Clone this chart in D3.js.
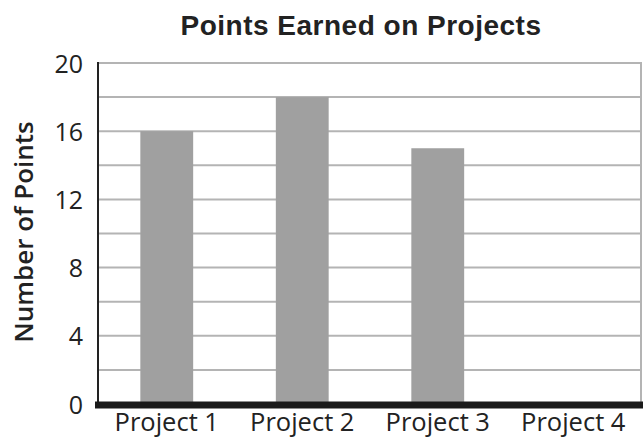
<!DOCTYPE html>
<html><head><meta charset="utf-8">
<script src="https://cdn.jsdelivr.net/npm/d3@7"></script>
<style>body{margin:0;background:#fff}</style>
</head><body>
<svg id="c" width="643" height="439"></svg>
<script>
const categories = ["Project 1","Project 2","Project 3","Project 4"];
const values = [16, 18, 15, 0];
const yTicks = [0,4,8,12,16,20];
const gridTicks = [2,4,6,8,10,12,14,16,18,20];
const title = "Points Earned on Projects";
const yLabel = "Number of Points";

const svg = d3.select("#c");
const L = 99, R = 641, T = 63, B = 404;
const x = d3.scaleBand().domain(categories).range([L, R]).paddingInner(0.61).paddingOuter(0.305);
const y = d3.scaleLinear().domain([0,20]).range([B, T]);

svg.append("g").selectAll("line").data(gridTicks).join("line")
  .attr("x1", L).attr("x2", R).attr("y1", d=>y(d)).attr("y2", d=>y(d))
  .attr("stroke", "#b4b4b4").attr("stroke-width", 2);
svg.append("line").attr("x1", R).attr("x2", R).attr("y1", T-1).attr("y2", B)
  .attr("stroke", "#b4b4b4").attr("stroke-width", 2);

svg.append("g").selectAll("rect").data(values).join("rect")
  .attr("x", (d,i)=>x(categories[i])).attr("width", x.bandwidth())
  .attr("y", d=>y(d)).attr("height", d=>B - y(d))
  .attr("fill", "#a0a0a0");

svg.append("line").attr("x1", L-1).attr("x2", L-1).attr("y1", T-1).attr("y2", B)
  .attr("stroke", "#222").attr("stroke-width", 2);
svg.append("line").attr("x1", 95).attr("x2", 643).attr("y1", B+1).attr("y2", B+1)
  .attr("stroke", "#1a1a1a").attr("stroke-width", 7);

const yAxis = d3.axisLeft(y).tickValues(yTicks).tickSize(0).tickPadding(0);
const ya = svg.append("g").attr("transform", `translate(${L-16},0)`).call(yAxis);
ya.select(".domain").remove();
ya.selectAll("text").attr("font-family","Open Sans").attr("font-size",25).attr("fill","#222")
  .attr("dy","0.36em");

const xAxis = d3.axisBottom(x).tickSize(0).tickPadding(0);
const xa = svg.append("g").attr("transform", `translate(0,0)`).call(xAxis);
xa.select(".domain").remove();
xa.selectAll("text").attr("font-family","Open Sans").attr("font-size",25.5).attr("fill","#222")
  .attr("y", 431).attr("dy", null);

svg.append("text").attr("x", 361).attr("y", 35).attr("text-anchor","middle")
  .attr("font-family","Liberation Sans, Arial").attr("font-weight","bold").attr("font-size",28)
  .attr("letter-spacing", 0.5)
  .attr("fill","#222").text(title);

svg.append("text").attr("transform", `translate(33,232) rotate(-90)`)
  .attr("text-anchor","middle").attr("font-family","Open Sans").attr("font-weight",600)
  .attr("font-size",26).attr("fill","#222").text(yLabel);
</script>
</body></html>
